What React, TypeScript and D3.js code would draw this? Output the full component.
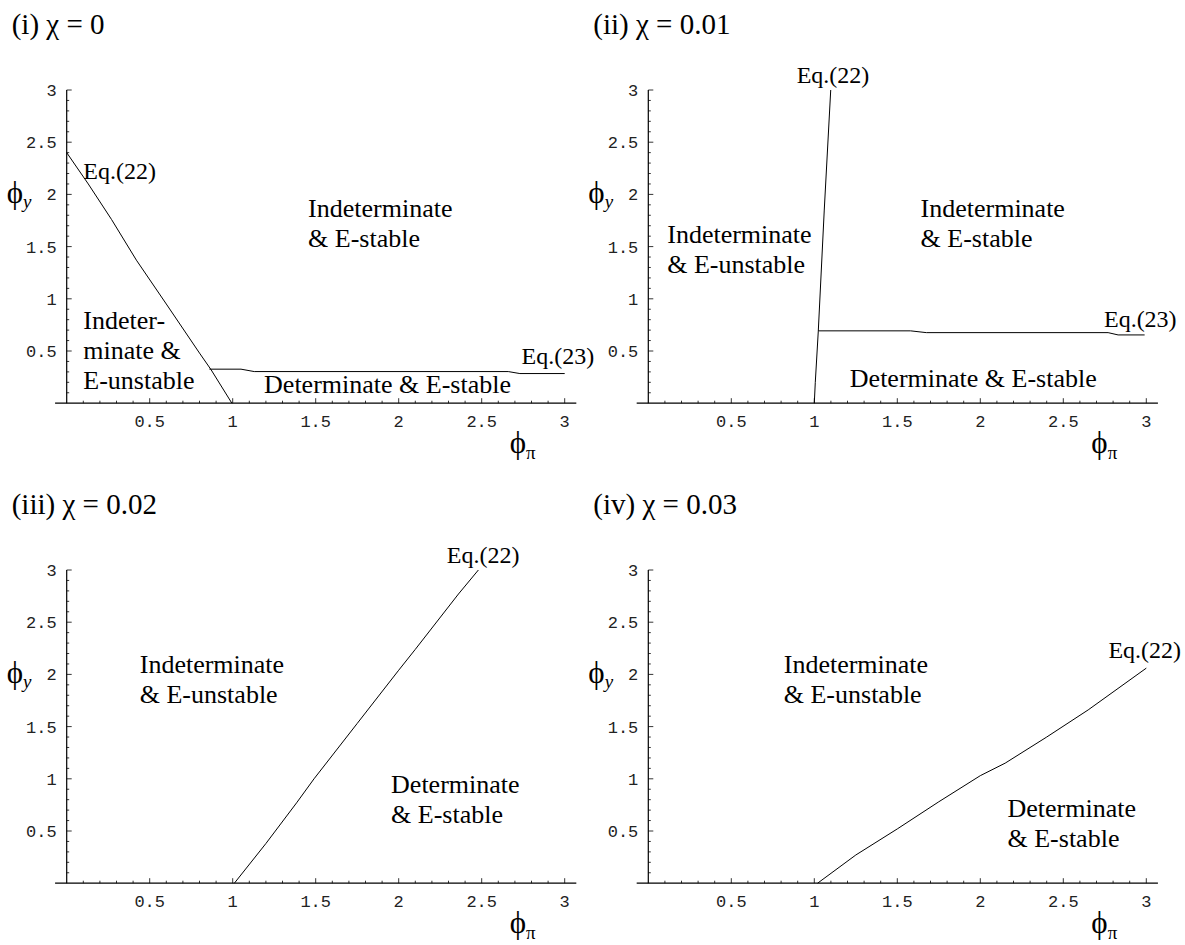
import { useEffect, useRef } from "react";
import * as d3 from "d3";

const WIDTH = 1185;
const HEIGHT = 945;

// tick values shared by both axes
const MAJOR_TICKS = [0.5, 1, 1.5, 2, 2.5, 3];
const TICK_LABELS = ["0.5", "1", "1.5", "2", "2.5", "3"];

const TITLES = ["(i) χ = 0", "(ii) χ = 0.01", "(iii) χ = 0.02", "(iv) χ = 0.03"];

// boundary curves, [phi_pi, phi_y]
const EQ22_I: [number, number][] = [
  [0, 2.4], [0.13, 2.1], [0.27, 1.76], [0.42, 1.37], [0.6, 0.95], [0.8, 0.48], [0.87, 0.32], [0.995, 0],
];
const EQ23_I: [number, number][] = [
  [0.86, 0.326], [1.05, 0.326], [1.13, 0.303], [2.66, 0.303], [2.73, 0.284], [3.0, 0.284],
];
const EQ22_II: [number, number][] = [
  [1.0, 0], [1.006, 0.2], [1.024, 0.69], [1.06, 1.85], [1.099, 3],
];
const EQ23_II: [number, number][] = [
  [1.024, 0.693], [1.58, 0.693], [1.675, 0.676], [2.77, 0.676], [2.83, 0.654], [2.99, 0.654],
];
const EQ22_III: [number, number][] = [
  [1.01, 0], [1.2, 0.38], [1.385, 0.77], [1.49, 1.0], [1.75, 1.53], [2.0, 2.04], [2.1, 2.24], [2.36, 2.77], [2.48, 3.0],
];
const EQ22_IV: [number, number][] = [
  [1.02, 0], [1.25, 0.27], [1.5, 0.52], [1.75, 0.78], [2.0, 1.03], [2.15, 1.15], [2.4, 1.4], [2.65, 1.66], [3.0, 2.06],
];

const X_UNIT = 166;
const Y_UNIT = 104.4;

type Label = { x: number; y: number; lines: string[]; eq?: boolean };

const PANELS = [
  {
    ox: 66.7, oy: 90,
    curves: [EQ22_I, EQ23_I],
    labels: [
      { x: 0.1, y: 2.15, lines: ["Eq.(22)"], eq: true },
      { x: 1.454, y: 1.785, lines: ["Indeterminate", "& E-stable"] },
      { x: 0.1, y: 0.712, lines: ["Indeter-", "minate &", "E-unstable"] },
      { x: 2.74, y: 0.376, lines: ["Eq.(23)"], eq: true },
      { x: 1.189, y: 0.096, lines: ["Determinate & E-stable"] },
    ] as Label[],
  },
  {
    ox: 648.3, oy: 90,
    curves: [EQ22_II, EQ23_II],
    labels: [
      { x: 0.894, y: 3.07, lines: ["Eq.(22)"], eq: true },
      { x: 0.114, y: 1.538, lines: ["Indeterminate", "& E-unstable"] },
      { x: 1.64, y: 1.785, lines: ["Indeterminate", "& E-stable"] },
      { x: 2.745, y: 0.734, lines: ["Eq.(23)"], eq: true },
      { x: 1.214, y: 0.159, lines: ["Determinate & E-stable"] },
    ] as Label[],
  },
  {
    ox: 66.7, oy: 570,
    curves: [EQ22_III],
    labels: [
      { x: 2.29, y: 3.065, lines: ["Eq.(22)"], eq: true },
      { x: 0.44, y: 2.01, lines: ["Indeterminate", "& E-unstable"] },
      { x: 1.954, y: 0.862, lines: ["Determinate", "& E-stable"] },
    ] as Label[],
  },
  {
    ox: 648.3, oy: 570,
    curves: [EQ22_IV],
    labels: [
      { x: 2.772, y: 2.155, lines: ["Eq.(22)"], eq: true },
      { x: 0.816, y: 2.01, lines: ["Indeterminate", "& E-unstable"] },
      { x: 2.164, y: 0.638, lines: ["Determinate", "& E-stable"] },
    ] as Label[],
  },
];

const SERIF = "'Liberation Serif', 'Times New Roman', serif";
const MONO = "'Liberation Mono', 'Courier New', monospace";

export default function App() {
  const svgRef = useRef<SVGSVGElement>(null);

  useEffect(() => {
    const svg = d3.select(svgRef.current);
    svg.selectAll("*").remove();

    PANELS.forEach((p, idx) => {
      const x = d3.scaleLinear().domain([0, 3]).range([p.ox, p.ox + 3 * X_UNIT]);
      const y = d3.scaleLinear().domain([0, 3]).range([p.oy + 3 * Y_UNIT, p.oy]);
      const g = svg.append("g");

      // title
      g.append("text")
        .attr("x", p.ox - 55)
        .attr("y", p.oy - 56)
        .style("font-family", SERIF)
        .style("font-size", "29px")
        .text(TITLES[idx]);

      // axes
      g.append("line")
        .attr("x1", x(-0.07)).attr("x2", x(3.07))
        .attr("y1", y(0)).attr("y2", y(0))
        .style("stroke", "#000").style("stroke-width", 1.2);
      g.append("line")
        .attr("x1", x(0)).attr("x2", x(0))
        .attr("y1", y(0)).attr("y2", y(3))
        .style("stroke", "#000").style("stroke-width", 1.2);

      const minor = d3.range(1, 31).map((d) => d / 10);
      minor.forEach((t) => {
        const major = Math.abs(t * 2 - Math.round(t * 2)) < 1e-6;
        const len = major ? 5 : 2.5;
        g.append("line")
          .attr("x1", x(t)).attr("x2", x(t))
          .attr("y1", y(0)).attr("y2", y(0) - len)
          .style("stroke", "#000").style("stroke-width", 0.8);
        g.append("line")
          .attr("x1", x(0)).attr("x2", x(0) + len)
          .attr("y1", y(t)).attr("y2", y(t))
          .style("stroke", "#000").style("stroke-width", 0.8);
      });

      MAJOR_TICKS.forEach((t, i) => {
        g.append("text")
          .attr("x", x(t))
          .attr("y", y(0) + 24)
          .attr("text-anchor", "middle")
          .style("font-family", MONO)
          .style("font-size", "17px")
          .style("fill", "#222")
          .text(TICK_LABELS[i]);
        g.append("text")
          .attr("x", x(0) - 10)
          .attr("y", y(t) + 6)
          .attr("text-anchor", "end")
          .style("font-family", MONO)
          .style("font-size", "17px")
          .style("fill", "#222")
          .text(TICK_LABELS[i]);
      });

      // axis names
      const py = g.append("text")
        .attr("x", p.ox - 60)
        .attr("y", p.oy + 113)
        .style("font-family", SERIF)
        .style("font-size", "31px");
      py.append("tspan").text("ϕ");
      py.append("tspan").attr("dy", 5).style("font-size", "19px").style("font-style", "italic").text("y");

      const pp = g.append("text")
        .attr("x", p.ox + 443)
        .attr("y", p.oy + 363)
        .style("font-family", SERIF)
        .style("font-size", "31px");
      pp.append("tspan").text("ϕ");
      pp.append("tspan").attr("dy", 6).style("font-size", "19px").text("π");

      // boundaries
      const line = d3.line<[number, number]>()
        .x((d) => x(d[0]))
        .y((d) => y(d[1]));
      p.curves.forEach((c) => {
        g.append("path")
          .datum(c)
          .attr("d", line)
          .style("fill", "none")
          .style("stroke", "#000")
          .style("stroke-width", 1);
      });

      // region / equation labels
      p.labels.forEach((l) => {
        const t = g.append("text")
          .attr("x", x(l.x))
          .attr("y", y(l.y))
          .style("font-family", SERIF)
          .style("font-size", l.eq ? "24px" : "26px");
        l.lines.forEach((s, k) => {
          t.append("tspan")
            .attr("x", x(l.x))
            .attr("dy", k === 0 ? 0 : 30)
            .text(s);
        });
      });
    });
  }, []);

  return (
    <svg
      ref={svgRef}
      width={WIDTH}
      height={HEIGHT}
      style={{ position: "absolute", left: 0, top: 0, background: "#fff" }}
    />
  );
}
